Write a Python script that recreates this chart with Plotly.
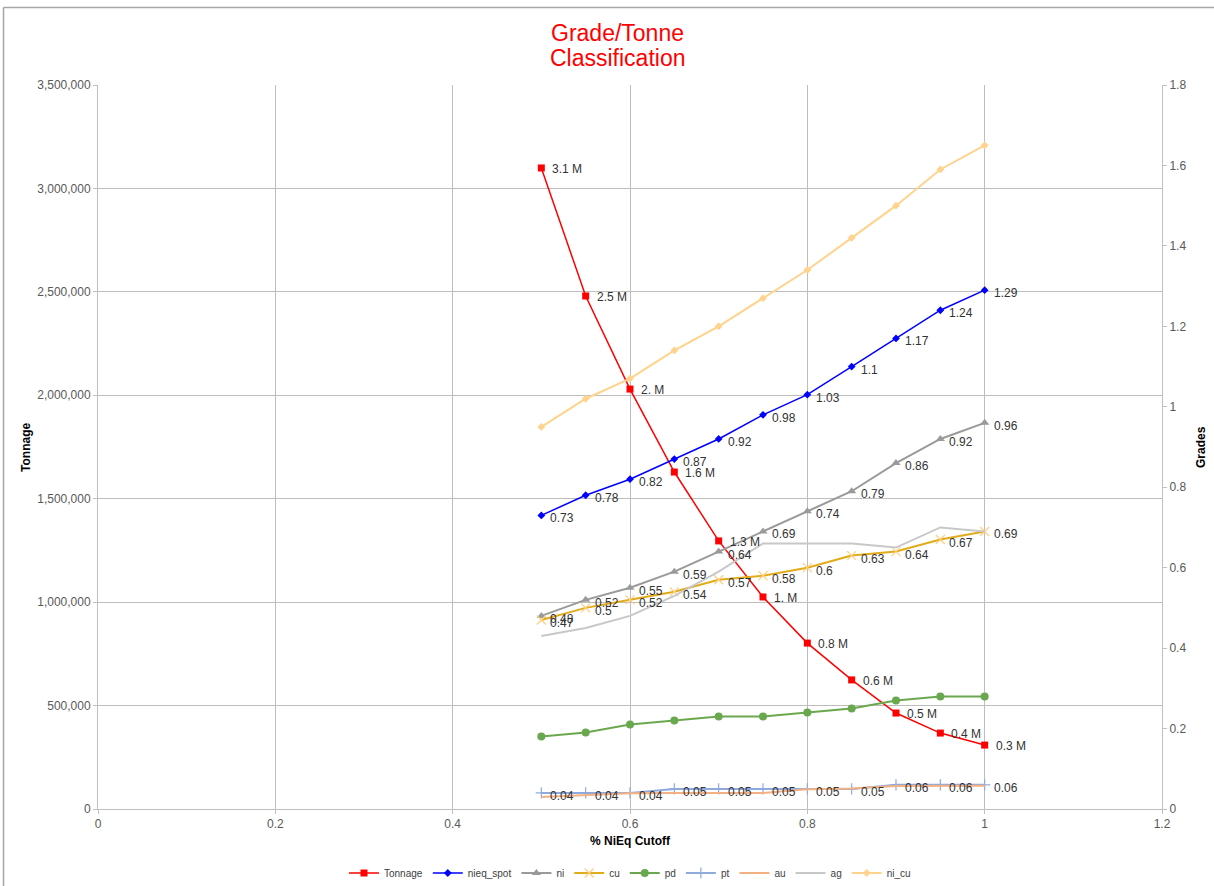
import plotly.graph_objects as go

# % NiEq cutoff grades
cutoff = [0.5, 0.55, 0.6, 0.65, 0.7, 0.75, 0.8, 0.85, 0.9, 0.95, 1.0]

# Tonnage above cutoff (left axis)
tonnage = [3099000, 2480000, 2030000, 1629000, 1296000, 1025000,
           802000, 624000, 464000, 367000, 309000]

# Grades (right axis)
nieq_spot = [0.73, 0.78, 0.82, 0.87, 0.92, 0.98, 1.03, 1.10, 1.17, 1.24, 1.29]
ni = [0.48, 0.52, 0.55, 0.59, 0.64, 0.69, 0.74, 0.79, 0.86, 0.92, 0.96]
cu = [0.47, 0.50, 0.52, 0.54, 0.57, 0.58, 0.60, 0.63, 0.64, 0.67, 0.69]
pd_grade = [0.18, 0.19, 0.21, 0.22, 0.23, 0.23, 0.24, 0.25, 0.27, 0.28, 0.28]
pt = [0.04, 0.04, 0.04, 0.05, 0.05, 0.05, 0.05, 0.05, 0.06, 0.06, 0.06]
au = [0.030, 0.035, 0.039, 0.040, 0.040, 0.040, 0.049, 0.051, 0.057, 0.058, 0.058]
ag = [0.43, 0.45, 0.48, 0.53, 0.59, 0.66, 0.66, 0.66, 0.65, 0.70, 0.69]
ni_cu = [0.95, 1.02, 1.07, 1.14, 1.20, 1.27, 1.34, 1.42, 1.50, 1.59, 1.65]

FONT = "Liberation Sans, Arial, sans-serif"
TICK_GREY = "#595959"
GRID = "#bdbdbd"


def fmt_millions(v):
    s = f"{v / 1e6:.1f}"
    if s.endswith("0"):
        s = s[:-1]
    return s + " M"


def fmt_grade(v):
    return f"{v:.2f}".rstrip("0").rstrip(".")


fig = go.Figure()

fig.add_trace(go.Scatter(
    x=cutoff, y=tonnage, name="Tonnage", mode="lines+markers",
    line=dict(color="#ff0000", width=1.5),
    marker=dict(symbol="square", size=7, color="#ff0000"),
    yaxis="y",
))

grade_series = [
    ("nieq_spot", nieq_spot, dict(color="#0000ff", width=1.5),
     dict(symbol="diamond", size=6, color="#0000ff")),
    ("ni", ni, dict(color="#9a9a9a", width=2),
     dict(symbol="triangle-up", size=8, color="#9a9a9a")),
    ("cu", cu, dict(color="#e2ab1a", width=2),
     dict(symbol="x-thin-open", size=9, color="#ffcf80", line=dict(width=1.2, color="#ffcf80"))),
    ("pd", pd_grade, dict(color="#6aa84f", width=2),
     dict(symbol="circle", size=8, color="#6aa84f")),
    ("pt", pt, dict(color="#8faadc", width=2),
     dict(symbol="cross-thin-open", size=8, color="#8faadc", line=dict(width=1.2, color="#8faadc"))),
    ("au", au, dict(color="#f4b183", width=2), None),
    ("ag", ag, dict(color="#c8c8c8", width=2), None),
    ("ni_cu", ni_cu, dict(color="#ffd38c", width=2),
     dict(symbol="diamond", size=6, color="#ffd38c")),
]

for name, vals, line, marker in grade_series:
    fig.add_trace(go.Scatter(
        x=cutoff, y=vals, name=name,
        mode="lines+markers" if marker else "lines",
        line=line, marker=marker, yaxis="y2",
    ))

# Data labels to the right of each point
annotations = []
label_font = dict(family=FONT, size=12, color="#333333")
for xv, yv in zip(cutoff, tonnage):
    annotations.append(dict(x=xv, y=yv, xref="x", yref="y", text=fmt_millions(yv),
                            showarrow=False, xanchor="left", yanchor="middle",
                            xshift=9, yshift=-1, font=label_font))
for vals in (nieq_spot, ni, cu, pt):
    for xv, yv in zip(cutoff, vals):
        annotations.append(dict(x=xv, y=yv, xref="x", yref="y2", text=fmt_grade(yv),
                                showarrow=False, xanchor="left", yanchor="middle",
                                xshift=7, yshift=-3, font=label_font))

# Title and axis titles
annotations += [
    dict(text="Grade/Tonne", x=0.4887, y=1.0718, xref="paper", yref="paper",
         showarrow=False, xanchor="center", yanchor="middle",
         font=dict(family=FONT, size=23, color="#ff0000")),
    dict(text="Classification", x=0.4887, y=1.0373, xref="paper", yref="paper",
         showarrow=False, xanchor="center", yanchor="middle",
         font=dict(family=FONT, size=23, color="#ff0000")),
    dict(text="<b>Tonnage</b>", x=-0.0677, y=0.5, xref="paper", yref="paper",
         showarrow=False, textangle=-90, xanchor="center", yanchor="middle",
         font=dict(family=FONT, size=12, color="#000000")),
    dict(text="<b>Grades</b>", x=1.0367, y=0.5, xref="paper", yref="paper",
         showarrow=False, textangle=-90, xanchor="center", yanchor="middle",
         font=dict(family=FONT, size=12, color="#000000")),
    dict(text="<b>% NiEq Cutoff</b>", x=0.5, y=-0.0442, xref="paper", yref="paper",
         showarrow=False, xanchor="center", yanchor="middle",
         font=dict(family=FONT, size=12, color="#000000")),
]

# Chart frame
shapes = [
    dict(type="line", xref="paper", yref="paper", x0=-0.0888, x1=-0.0888, y0=-0.2, y1=1.107,
         line=dict(color="#a6a6a6", width=1.5)),
    dict(type="line", xref="paper", yref="paper", x0=-0.0888, x1=1.1, y0=1.107, y1=1.107,
         line=dict(color="#a6a6a6", width=1.5)),
]

axis_common = dict(
    showline=True, linecolor="#bfbfbf", linewidth=1,
    ticks="outside", ticklen=4, tickcolor="#bfbfbf",
    tickfont=dict(family=FONT, size=12, color=TICK_GREY),
    zeroline=False,
)

fig.update_layout(
    width=1214, height=886,
    margin=dict(l=98, r=52, t=85, b=77, autoexpand=False),
    paper_bgcolor="white", plot_bgcolor="white",
    font=dict(family=FONT),
    xaxis=dict(range=[0, 1.2], dtick=0.2, tick0=0, showgrid=True, gridcolor=GRID,
               gridwidth=1, **axis_common),
    yaxis=dict(range=[0, 3500000], dtick=500000, tickformat=",", showgrid=True,
               gridcolor=GRID, gridwidth=1, **axis_common),
    yaxis2=dict(range=[0, 1.8], dtick=0.2, overlaying="y", side="right",
                showgrid=False, **axis_common),
    legend=dict(orientation="h", x=0.5, xanchor="center", y=-0.0884, yanchor="middle",
                font=dict(family=FONT, size=10, color="#404040"),
                itemwidth=30, traceorder="normal"),
    annotations=annotations,
    shapes=shapes,
    showlegend=True,
)

fig.write_html("out.html")
